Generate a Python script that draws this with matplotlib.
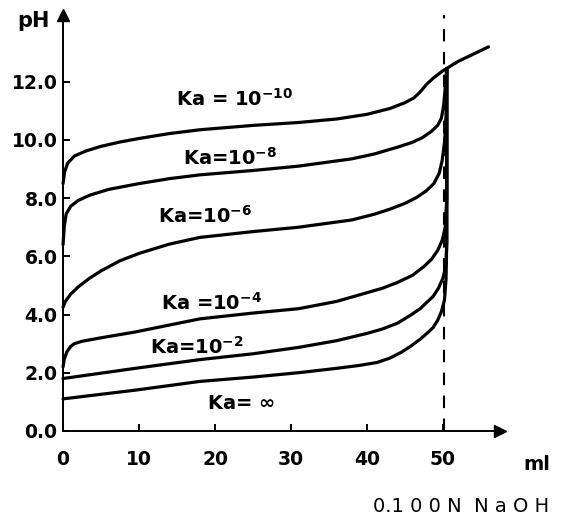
import matplotlib
matplotlib.use("Agg")
import matplotlib.pyplot as plt

plt.rcParams['font.family'] = ['DejaVu Sans']
plt.rcParams['font.weight'] = 'bold'
plt.rcParams['mathtext.default'] = 'bf'

# titration curves, values (ml NaOH, pH)
x_inf = [0, 9.5, 18, 25, 31, 36, 39, 41.3, 43, 44.5, 45.7, 47, 48, 48.7, 49.3, 49.8, 50.2, 50.4, 50.5, 50.5]
ph_inf = [1.1, 1.4, 1.7, 1.85, 2.0, 2.15, 2.25, 2.35, 2.5, 2.7, 2.9, 3.15, 3.38, 3.55, 3.8, 4.1, 4.5, 5.2, 6.5, 12.45]

x_m2 = [0, 9.5, 18, 25, 31, 36, 40, 42, 44, 45.7, 47, 48, 48.7, 49.4, 50, 50.4, 50.5, 50.5]
ph_m2 = [1.8, 2.15, 2.45, 2.65, 2.87, 3.1, 3.35, 3.5, 3.7, 3.97, 4.2, 4.45, 4.62, 4.9, 5.25, 5.7, 6.5, 12.45]

x_m4 = [0, 0.15, 0.5, 1, 1.5, 2.5, 5, 9.5, 18, 25, 31, 36, 40, 42, 44, 46, 47.5, 48.5, 49.3, 49.9, 50.3, 50.5, 50.5]
ph_m4 = [2.2, 2.45, 2.72, 2.9, 3.0, 3.08, 3.2, 3.4, 3.85, 4.05, 4.2, 4.45, 4.75, 4.9, 5.1, 5.35, 5.65, 5.9, 6.2, 6.55, 7.0, 8.0, 12.45]

x_m6 = [0, 0.3, 1, 2, 3.5, 5, 7.5, 10, 14, 18, 25, 31, 38, 41, 43, 45, 46.5, 47.8, 48.8, 49.5, 49.9, 50.2, 50.4, 50.5]
ph_m6 = [4.25, 4.45, 4.7, 4.95, 5.25, 5.5, 5.85, 6.1, 6.42, 6.65, 6.85, 7.0, 7.25, 7.45, 7.62, 7.82, 8.02, 8.25, 8.5, 8.85, 9.3, 9.9, 10.8, 12.45]

x_m8 = [0, 0.15, 0.4, 1, 2, 3.5, 6, 10, 14, 18, 25, 31, 38, 41, 44, 46, 47.3, 48.5, 49.3, 49.8, 50.1, 50.3, 50.5]
ph_m8 = [6.4, 7.0, 7.45, 7.72, 7.92, 8.1, 8.3, 8.5, 8.67, 8.8, 8.95, 9.1, 9.35, 9.52, 9.75, 9.92, 10.08, 10.3, 10.5, 10.75, 11.2, 11.8, 12.45]

x_m10 = [0, 0.2, 0.6, 1.5, 3, 5, 7.5, 10, 14, 18, 25, 31, 36, 40, 43, 45, 46.2, 47, 47.8, 48.7, 50, 52, 54, 56]
ph_m10 = [8.5, 8.9, 9.2, 9.45, 9.62, 9.78, 9.93, 10.05, 10.22, 10.35, 10.5, 10.6, 10.72, 10.88, 11.08, 11.28, 11.45, 11.65, 11.9, 12.12, 12.38, 12.7, 12.95, 13.2]

labels = [r'Ka = 10$^{-10}$', r'Ka=10$^{-8}$', r'Ka=10$^{-6}$',
          r'Ka =10$^{-4}$', r'Ka=10$^{-2}$', r'Ka= $\infty$']
label_x = [22.6, 22.0, 18.7, 19.6, 17.6, 23.4]
label_y = [11.4, 9.4, 7.4, 4.4, 2.9, 0.95]

yticks = [0, 2, 4, 6, 8, 10, 12]
ytick_labels = ['0.0', '2.0', '4.0', '6.0', '8.0', '10.0', '12.0']
xticks = [0, 10, 20, 30, 40, 50]

fig = plt.figure(figsize=(5.63, 5.3), dpi=100)
ax = fig.add_axes([0.112, 0.187, 0.776, 0.785])

for xs, ys in [(x_inf, ph_inf), (x_m2, ph_m2), (x_m4, ph_m4),
               (x_m6, ph_m6), (x_m8, ph_m8), (x_m10, ph_m10)]:
    ax.plot(xs, ys, color='black', lw=2.3, solid_joinstyle='round',
            solid_capstyle='round', clip_on=False)

ax.axvline(50.2, color='black', lw=1.5, ls=(0, (6, 5)))

for t, lx, ly in zip(labels, label_x, label_y):
    ax.text(lx, ly, t, fontsize=14, ha='center', va='center')

ax.set_xlim(0, 57.5)
ax.set_ylim(0, 14.3)
for s in ['top', 'right']:
    ax.spines[s].set_visible(False)
for s in ['left', 'bottom']:
    ax.spines[s].set_linewidth(1.4)

ax.set_yticks(yticks)
ax.set_yticklabels(ytick_labels)
ax.set_xticks(xticks)
ax.tick_params(direction='in', length=5, width=1.4, labelsize=13.5)
ax.tick_params(axis='x', pad=14)
ax.tick_params(axis='y', pad=4)

# arrow heads on the axes
ax.plot([57.5], [0], marker='>', color='black', ms=9, clip_on=False)
ax.plot([0], [14.3], marker='^', color='black', ms=9, clip_on=False)

ax.text(-3.9, 14.1, 'pH', fontsize=15, ha='center', va='center')
ax.text(62.3, -1.15, 'ml', fontsize=14, ha='center', va='center')
ax.text(40.8, -2.6, '0.1 0 0 N  N a O H', fontsize=14, fontweight='normal',
        ha='left', va='center')

fig.savefig('out.png', dpi=100)
